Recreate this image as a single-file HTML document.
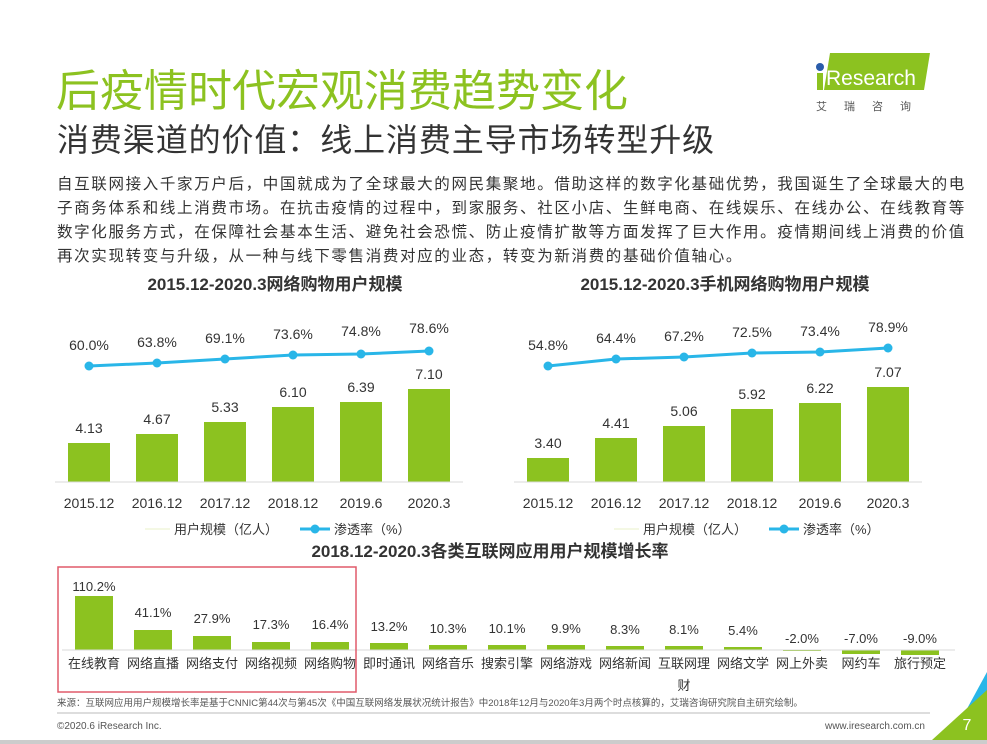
<!DOCTYPE html>
<html><head><meta charset="utf-8"><style>
body{margin:0;width:987px;height:744px;overflow:hidden;background:#fff;font-family:"Liberation Sans","Noto Sans CJK SC",sans-serif;position:relative}
.a{position:absolute;white-space:nowrap}
</style></head><body>
<div class="a" style="left:56px;top:55px;font-size:44px;color:#8cc220;letter-spacing:0px">后疫情时代宏观消费趋势变化</div>
<div class="a" style="left:57px;top:115px;font-size:32px;color:#333;letter-spacing:0.9px">消费渠道的价值：线上消费主导市场转型升级</div>
<div class="a" style="left:57px;top:173px;font-size:15.5px;line-height:24px;color:#333;letter-spacing:1.65px">自互联网接入千家万户后，中国就成为了全球最大的网民集聚地。借助这样的数字化基础优势，我国诞生了全球最大的电<br>子商务体系和线上消费市场。在抗击疫情的过程中，到家服务、社区小店、生鲜电商、在线娱乐、在线办公、在线教育等<br>数字化服务方式，在保障社会基本生活、避免社会恐慌、防止疫情扩散等方面发挥了巨大作用。疫情期间线上消费的价值<br>再次实现转变与升级，从一种与线下零售消费对应的业态，转变为新消费的基础价值轴心。</div>
<svg class="a" style="left:800px;top:50px" width="180" height="65">
<polygon points="30,3 130,3 124,40 24,40" fill="#8cc220"/>
<circle cx="20" cy="17" r="4" fill="#2a5caa"/>
<rect x="17" y="23" width="6" height="17" fill="#8cc220"/>
<text x="26" y="35" font-size="21" fill="#fff" font-family="Liberation Sans">Research</text>
<text x="16" y="60" font-size="11" fill="#555" letter-spacing="17">艾瑞咨询</text>
</svg>
<svg class="a" style="left:0;top:0" width="987" height="744" font-family="Liberation Sans,Noto Sans CJK SC,sans-serif">
<text x="275" y="290" font-size="17" font-weight="bold" text-anchor="middle" fill="#333">2015.12-2020.3网络购物用户规模</text>
<text x="725" y="290" font-size="17" font-weight="bold" text-anchor="middle" fill="#333">2015.12-2020.3手机网络购物用户规模</text>
<g fill="#8cc220">
<rect x="68" y="443" width="42" height="39"/><rect x="136" y="434" width="42" height="48"/><rect x="204" y="422" width="42" height="60"/><rect x="272" y="407" width="42" height="75"/><rect x="340" y="402" width="42" height="80"/><rect x="408" y="389" width="42" height="93"/>
<rect x="527" y="458" width="42" height="24"/><rect x="595" y="438" width="42" height="44"/><rect x="663" y="426" width="42" height="56"/><rect x="731" y="409" width="42" height="73"/><rect x="799" y="403" width="42" height="79"/><rect x="867" y="387" width="42" height="95"/>
</g>
<g stroke="#d9d9d9"><line x1="55" y1="482" x2="463" y2="482"/><line x1="514" y1="482" x2="922" y2="482"/></g>
<g font-size="14" fill="#333" text-anchor="middle">
<text x="89" y="433">4.13</text><text x="157" y="424">4.67</text><text x="225" y="412">5.33</text><text x="293" y="397">6.10</text><text x="361" y="392">6.39</text><text x="429" y="379">7.10</text>
<text x="548" y="448">3.40</text><text x="616" y="428">4.41</text><text x="684" y="416">5.06</text><text x="752" y="399">5.92</text><text x="820" y="393">6.22</text><text x="888" y="377">7.07</text>
<text x="89" y="508">2015.12</text><text x="157" y="508">2016.12</text><text x="225" y="508">2017.12</text><text x="293" y="508">2018.12</text><text x="361" y="508">2019.6</text><text x="429" y="508">2020.3</text>
<text x="548" y="508">2015.12</text><text x="616" y="508">2016.12</text><text x="684" y="508">2017.12</text><text x="752" y="508">2018.12</text><text x="820" y="508">2019.6</text><text x="888" y="508">2020.3</text>
<text x="89" y="350">60.0%</text><text x="157" y="347">63.8%</text><text x="225" y="343">69.1%</text><text x="293" y="339">73.6%</text><text x="361" y="336">74.8%</text><text x="429" y="333">78.6%</text>
<text x="548" y="350">54.8%</text><text x="616" y="343">64.4%</text><text x="684" y="341">67.2%</text><text x="752" y="337">72.5%</text><text x="820" y="336">73.4%</text><text x="888" y="332">78.9%</text>
</g>
<g stroke="#29b6e8" stroke-width="3" fill="none">
<polyline points="89,366 157,363 225,359 293,355 361,354 429,351"/>
<polyline points="548,366 616,359 684,357 752,353 820,352 888,348"/>
</g>
<g fill="#29b6e8">
<circle cx="89" cy="366" r="4.5"/><circle cx="157" cy="363" r="4.5"/><circle cx="225" cy="359" r="4.5"/><circle cx="293" cy="355" r="4.5"/><circle cx="361" cy="354" r="4.5"/><circle cx="429" cy="351" r="4.5"/>
<circle cx="548" cy="366" r="4.5"/><circle cx="616" cy="359" r="4.5"/><circle cx="684" cy="357" r="4.5"/><circle cx="752" cy="353" r="4.5"/><circle cx="820" cy="352" r="4.5"/><circle cx="888" cy="348" r="4.5"/>
</g>
<g font-size="13" fill="#333">
<line x1="145" y1="529" x2="170" y2="529" stroke="#e8f0c8"/><text x="174" y="534">用户规模（亿人）</text>
<line x1="300" y1="529" x2="330" y2="529" stroke="#29b6e8" stroke-width="3"/><circle cx="315" cy="529" r="4.5" fill="#29b6e8"/><text x="334" y="534">渗透率（%）</text>
<line x1="614" y1="529" x2="639" y2="529" stroke="#e8f0c8"/><text x="643" y="534">用户规模（亿人）</text>
<line x1="769" y1="529" x2="799" y2="529" stroke="#29b6e8" stroke-width="3"/><circle cx="784" cy="529" r="4.5" fill="#29b6e8"/><text x="803" y="534">渗透率（%）</text>
</g>
<text x="490" y="557" font-size="17" font-weight="bold" text-anchor="middle" fill="#333">2018.12-2020.3各类互联网应用用户规模增长率</text>
<g fill="#8cc220">
<rect x="75" y="596" width="38" height="54"/><rect x="134" y="630" width="38" height="20"/><rect x="193" y="636" width="38" height="14"/><rect x="252" y="642" width="38" height="8"/><rect x="311" y="642" width="38" height="8"/><rect x="370" y="643" width="38" height="7"/><rect x="429" y="645" width="38" height="5"/><rect x="488" y="645" width="38" height="5"/><rect x="547" y="645" width="38" height="5"/><rect x="606" y="646" width="38" height="4"/><rect x="665" y="646" width="38" height="4"/><rect x="724" y="647" width="38" height="3"/><rect x="783" y="650" width="38" height="1"/><rect x="842" y="650" width="38" height="4"/><rect x="901" y="650" width="38" height="5"/>
</g>
<line x1="62" y1="650" x2="955" y2="650" stroke="#d9d9d9"/>
<g font-size="13" fill="#333" text-anchor="middle">
<text x="94" y="591">110.2%</text><text x="153" y="617">41.1%</text><text x="212" y="623">27.9%</text><text x="271" y="629">17.3%</text><text x="330" y="629">16.4%</text><text x="389" y="631">13.2%</text><text x="448" y="633">10.3%</text><text x="507" y="633">10.1%</text><text x="566" y="633">9.9%</text><text x="625" y="634">8.3%</text><text x="684" y="634">8.1%</text><text x="743" y="635">5.4%</text><text x="802" y="643">-2.0%</text><text x="861" y="643">-7.0%</text><text x="920" y="643">-9.0%</text>
<text x="94" y="668">在线教育</text><text x="153" y="668">网络直播</text><text x="212" y="668">网络支付</text><text x="271" y="668">网络视频</text><text x="330" y="668">网络购物</text><text x="389" y="668">即时通讯</text><text x="448" y="668">网络音乐</text><text x="507" y="668">搜索引擎</text><text x="566" y="668">网络游戏</text><text x="625" y="668">网络新闻</text><text x="684" y="668">互联网理</text><text x="684" y="690">财</text><text x="743" y="668">网络文学</text><text x="802" y="668">网上外卖</text><text x="861" y="668">网约车</text><text x="920" y="668">旅行预定</text>
</g>
<rect x="58" y="567" width="298" height="125" fill="none" stroke="#e05a6a" stroke-width="1.5"/>
<text x="57" y="706" font-size="9.5" fill="#555">来源：互联网应用用户规模增长率是基于CNNIC第44次与第45次《中国互联网络发展状况统计报告》中2018年12月与2020年3月两个时点核算的，艾瑞咨询研究院自主研究绘制。</text>
<line x1="57" y1="713" x2="930" y2="713" stroke="#bbb"/>
<text x="57" y="729" font-size="10" fill="#555">©2020.6 iResearch Inc.</text>
<text x="925" y="729" font-size="10" fill="#555" text-anchor="end">www.iresearch.com.cn</text>
<polygon points="987,672 987,740 950,740" fill="#29b6e8"/>
<polygon points="987,690 987,740 932,740" fill="#8cc220"/>
<text x="967" y="730" font-size="16" fill="#fff" text-anchor="middle">7</text>
<rect x="0" y="740" width="987" height="4" fill="#ccc"/>
</svg>
</body></html>
